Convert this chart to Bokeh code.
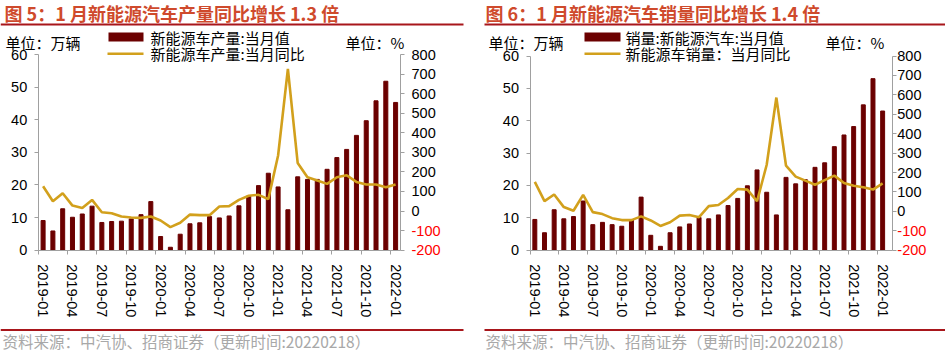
from bokeh.plotting import figure
from bokeh.models import Range1d, LinearAxis, FixedTicker, Label, BoxAnnotation
from bokeh.layouts import row
from bokeh.embed import file_html
from bokeh.resources import INLINE

months = [f"{y}-{m:02d}" for y in (2019, 2020, 2021) for m in range(1, 13)] + ["2022-01"]
label_idx = list(range(0, 37, 3))

prod = [9.1, 5.9, 12.7, 10.1, 11.1, 13.5, 8.5, 8.8, 8.9, 9.6, 10.9, 14.9,
        4.2, 0.9, 4.9, 8.1, 8.4, 10.3, 9.9, 10.5, 13.6, 16.6, 19.8, 23.6,
        19.4, 12.4, 22.5, 21.7, 21.7, 24.8, 28.4, 30.9, 35.2, 39.7, 45.8, 51.8, 45.3]
prod_yoy = [127, 50, 91, 28, 16, 57, -6, -11, -28, -33, -35, -28,
            -48, -82, -60, -18, -21, -21, 23, 25, 57, 78, 83, 61,
            284, 727, 246, 173, 156, 139, 173, 183, 149, 136, 136, 122, 136]
sales = [9.5, 5.4, 12.5, 9.7, 10.4, 15.2, 7.9, 8.6, 7.9, 7.4, 9.4, 16.4,
         4.6, 1.2, 5.4, 7.2, 8.1, 10.1, 9.7, 10.9, 13.8, 16.0, 19.9, 24.8,
         17.9, 10.9, 22.5, 20.5, 21.8, 25.6, 27.0, 32.0, 35.6, 38.2, 44.9, 53.0, 43.0]
sales_yoy = [152, 53, 87, 22, 3, 85, -4, -14, -35, -45, -45, -26,
             -47, -75, -56, -22, -19, -30, 27, 33, 69, 115, 112, 52,
             240, 586, 235, 179, 158, 137, 161, 184, 146, 132, 124, 112, 144]

BAR = "#6B0000"
LINE = "#D2A01C"
TITLE_C = "#CF4A2C"
RULE_C = "#A8161B"
AX_C = "#A0A0A0"
SRC_C = "#A8A8A8"
CJK = "Noto Sans CJK SC"
LAT = "Liberation Sans"
H = 354


def panel(W, fx0, fx1, fy0, fy1, xmax, bars, yoy, r_standoff):
    # frame of the plotted region in canvas pixels: x fx0..fx1, y fy0 (top) .. fy1 (bottom)
    xmin = -0.5
    ux = (fx1 - fx0) / (xmax - xmin)
    uy = (fy1 - fy0) / 60.0
    uyy = (fy1 - fy0) / 1000.0
    xr = Range1d(xmin - fx0 / ux, xmax + (W - fx1) / ux)
    yr = Range1d(0 - (H - fy1) / uy, 60 + fy0 / uy)
    yyr = Range1d(-200 - (H - fy1) / uyy, 800 + fy0 / uyy)

    p = figure(width=W, height=H, output_backend="svg", toolbar_location=None,
               x_range=xr, y_range=yr, x_axis_location=None, y_axis_location=None,
               min_border=0)
    p.title.visible = False
    p.outline_line_color = None
    p.grid.visible = False
    p.background_fill_color = "white"
    p.border_fill_color = "white"
    p.extra_y_ranges = {"yoy": yyr}

    idx = list(range(len(months)))
    p.vbar(x=idx, top=bars, width=0.41, color=BAR)
    p.line(x=idx, y=yoy, y_range_name="yoy", color=LINE, line_width=2.6)

    def style(ax):
        ax.axis_line_color = AX_C
        ax.major_tick_line_color = AX_C
        ax.minor_tick_line_color = None
        ax.major_tick_in = 0
        ax.major_tick_out = 4
        ax.major_label_text_font = LAT
        ax.major_label_text_font_size = "14.5px"
        ax.major_label_text_color = "#000000"

    yl = LinearAxis(ticker=FixedTicker(ticks=list(range(0, 61, 10))),
                    fixed_location=xmin, bounds=(0, 60))
    style(yl)
    yl.major_label_standoff = 7
    p.add_layout(yl, "left")

    yrax = LinearAxis(y_range_name="yoy", ticker=FixedTicker(ticks=list(range(-200, 801, 100))),
                      fixed_location=xmax, bounds=(-200, 800))
    style(yrax)
    yrax.major_label_standoff = r_standoff
    yrax.major_label_overrides = {-100: " ", -200: " "}
    p.add_layout(yrax, "right")

    xl = LinearAxis(ticker=FixedTicker(ticks=label_idx,
                                       minor_ticks=[i - 0.5 for i in label_idx]),
                    fixed_location=0, bounds=(xmin, xmax))
    style(xl)
    xl.major_tick_out = 0
    xl.minor_tick_line_color = AX_C
    xl.minor_tick_in = 0
    xl.minor_tick_out = 4
    xl.major_label_standoff = 10
    xl.major_label_orientation = "vertical"
    xl.major_label_overrides = {i: months[i] for i in label_idx}
    p.add_layout(xl, "below")

    # red negative labels of the right axis
    for v in (-100, -200):
        p.add_layout(Label(x=fx1 + 4 + r_standoff, y=v, x_units="screen", y_range_name="yoy",
                           text=str(v), text_font=LAT, text_font_size="14.5px",
                           text_color="#FF0000", text_baseline="middle", text_align="left"))

    def lab(px, py, text, size, color="#000000", bold=False):
        p.add_layout(Label(x=px, y=H - py, x_units="screen", y_units="screen",
                           text=text, text_font=CJK, text_font_size=size,
                           text_color=color, text_baseline="middle", text_align="left",
                           text_font_style="bold" if bold else "normal"))

    def box(x0, x1, y0, y1, color):
        p.add_layout(BoxAnnotation(left=x0, right=x1, top=H - y0, bottom=H - y1,
                                   left_units="screen", right_units="screen",
                                   top_units="screen", bottom_units="screen",
                                   fill_color=color, fill_alpha=1.0, line_color=None))

    return p, lab, box


# Left panel (canvas x = page x)
p1, lab1, box1 = panel(475, 37.7, 400, 54, 249.7, 36.5, prod, prod_yoy, 7)
lab1(4, 12.5, "图 5：1 月新能源汽车产量同比增长 1.3 倍", "18px", TITLE_C, bold=True)
box1(0, 463, 23, 25, RULE_C)
box1(0, 463, 328.5, 330.5, RULE_C)
lab1(5, 41.5, "单位：万辆", "15px")
box1(108, 143, 32, 41, BAR)
box1(107, 143, 52, 54.5, LINE)
lab1(150, 36.5, "新能源车产量:当月值", "15px")
lab1(150, 52.5, "新能源车产量:当月同比", "15px")
lab1(345, 42, "单位：%", "15px")
lab1(2, 340, "资料来源：中汽协、招商证券（更新时间:20220218）", "15.5px", SRC_C)

# Right panel (canvas x = page x - 475)
p2, lab2, box2 = panel(470, 54.5, 416.8, 55.5, 249.7, 37.0, sales, sales_yoy, 1)
lab2(10, 12.5, "图 6：1 月新能源汽车销量同比增长 1.4 倍", "18px", TITLE_C, bold=True)
box2(9, 470, 23, 25, RULE_C)
box2(9, 470, 328.5, 330.5, RULE_C)
lab2(13, 41.5, "单位：万辆", "15px")
box2(109, 145, 32, 41, BAR)
box2(109, 145, 52, 54.5, LINE)
lab2(150, 36.5, "销量:新能源汽车:当月值", "15px")
lab2(150, 52.5, "新能源车销量：当月同比", "15px")
lab2(350, 42, "单位：%", "15px")
lab2(10, 340, "资料来源：中汽协、招商证券（更新时间:20220218）", "15.5px", SRC_C)

layout = row(p1, p2)
open("out.html", "w").write(file_html(layout, INLINE))
